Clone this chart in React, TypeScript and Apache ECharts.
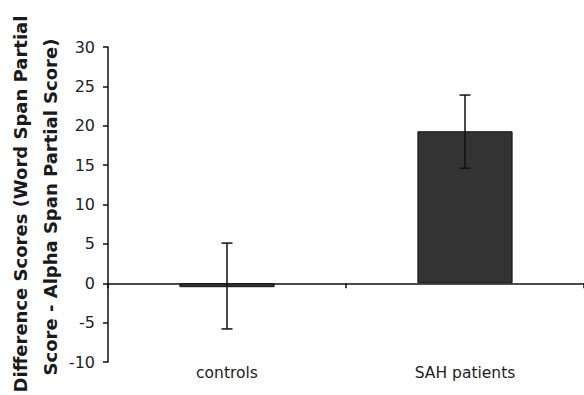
import React, { useEffect, useRef } from "react";
import * as echarts from "echarts";

const categories = ["controls", "SAH patients"];
const means = [-0.5, 19.3];
const errLow = [-5.8, 14.6];
const errHigh = [5.1, 23.9];
const yTicks = { min: -10, max: 30, interval: 5 };
const yTitleLines = ["Difference Scores (Word Span Partial", "Score - Alpha Span Partial Score)"];

export default function App() {
  const ref = useRef<HTMLDivElement>(null);
  useEffect(() => {
    document.body.style.margin = "0";
    const chart = echarts.init(ref.current!, null, { renderer: "svg" });
    const font = "'DejaVu Sans', sans-serif";
    const titlePos = [
      { x: 20, y: 204 },
      { x: 50, y: 207 },
    ];
    chart.setOption({
      animation: false,
      backgroundColor: "#fff",
      grid: { left: 108, right: 0, top: 47, bottom: 33 },
      xAxis: [
        {
          type: "category",
          data: categories,
          position: "bottom",
          axisLine: { onZero: true, lineStyle: { color: "#111", width: 1.5 } },
          axisTick: { show: true, length: 5, lineStyle: { color: "#111", width: 1.5 } },
          axisLabel: { show: false },
        },
        {
          type: "category",
          data: categories,
          position: "bottom",
          axisLine: { show: false, onZero: false },
          axisTick: { show: false },
          axisLabel: { show: true, margin: 3, fontSize: 15.5, fontFamily: font, color: "#222" },
        },
      ],
      yAxis: {
        type: "value",
        min: yTicks.min,
        max: yTicks.max,
        interval: yTicks.interval,
        splitLine: { show: false },
        axisLine: { show: true, lineStyle: { color: "#111", width: 1.5 } },
        axisTick: { show: true, length: 5, lineStyle: { color: "#111", width: 1.5 } },
        axisLabel: { margin: 13, fontSize: 16, fontFamily: font, color: "#222" },
      },
      graphic: yTitleLines.map((t, i) => ({
        type: "text",
        x: titlePos[i].x,
        y: titlePos[i].y,
        rotation: Math.PI / 2,
        style: {
          text: t,
          fontSize: 18,
          fontWeight: "bold",
          fontFamily: font,
          fill: "#1a1a1a",
          textAlign: "center",
          textVerticalAlign: "middle",
        },
      })),
      series: [
        {
          type: "bar",
          data: means,
          barWidth: "40%",
          itemStyle: { color: "#333", borderColor: "#111", borderWidth: 1 },
        },
        {
          type: "custom",
          data: categories.map((c, i) => [i, errLow[i], errHigh[i]]),
          renderItem: (params: any, api: any) => {
            const x = api.value(0);
            const lo = api.coord([x, api.value(1)]);
            const hi = api.coord([x, api.value(2)]);
            const cap = 5.5;
            const style = { stroke: "#111", lineWidth: 1.5 };
            return {
              type: "group",
              children: [
                { type: "line", shape: { x1: lo[0], y1: lo[1], x2: hi[0], y2: hi[1] }, style },
                { type: "line", shape: { x1: lo[0] - cap, y1: lo[1], x2: lo[0] + cap, y2: lo[1] }, style },
                { type: "line", shape: { x1: hi[0] - cap, y1: hi[1], x2: hi[0] + cap, y2: hi[1] }, style },
              ],
            };
          },
          z: 10,
        },
      ],
    });
    return () => chart.dispose();
  }, []);
  return <div ref={ref} style={{ width: 584, height: 395 }} />;
}
